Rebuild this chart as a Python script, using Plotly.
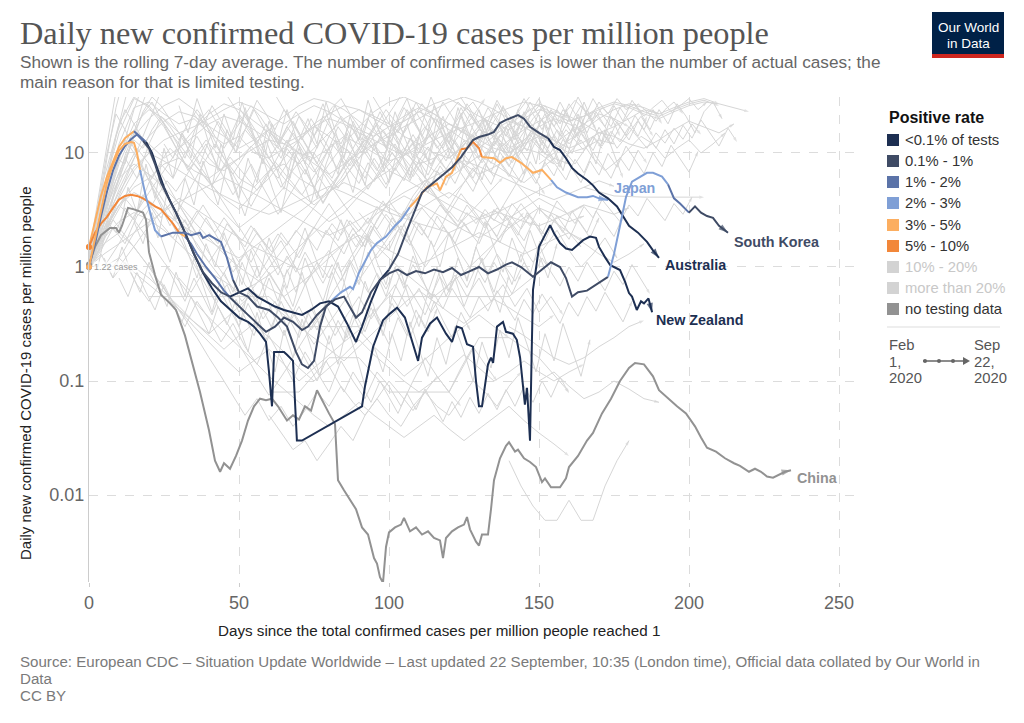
import math
import plotly.graph_objects as go

# ---------------- data ----------------
# positive-rate categories: 0 <0.1%, 1 0.1-1%, 2 1-2%, 3 2-3%, 4 3-5%, 5 5-10%, 6 10-20%, 7 >20%, 8 no testing data
legend_labels = ["&lt;0.1% of tests", "0.1% - 1%", "1% - 2%", "2% - 3%", "3% - 5%",
                 "5% - 10%", "10% - 20%", "more than 20%", "no testing data"]
cat_colors = ["#1d2f52", "#3f4b65", "#5b73a8", "#7f9fd6", "#fcae60",
              "#f2873a", "#d3d3d3", "#d3d3d3", "#929292"]
legend_text_colors = ["#333", "#333", "#333", "#333", "#333", "#333", "#c8c8c8", "#c8c8c8", "#333"]

aus_days = [0,2,4,6,8,10,12,14,16,18, 20,22,24,26,29,32,35,38,41,44, 47,50,53,56,59,62,65,68,71,74,
            77,80,83,86,89,91,94,97,100,103, 106,109,111,113,116,119,121,124,126,128,
            130,133,135,137,139,141,143,145,147,150, 153,155,157,159,161,163,166,168,170,173,
            176,178,180,183,186,188,190]
aus_vals = [1.0,1.6,2.8,4.6,7.0,9.5,11.5,13.2,14.5,12.8, 11.0,8.0,5.5,4.3,3.0,2.0,1.3,0.9,0.72,0.6,
            0.55,0.6,0.65,0.55,0.5,0.45,0.42,0.4,0.38,0.42, 0.48,0.5,0.45,0.32,0.22,0.3,0.5,0.77,0.95,1.3,
            2.1,3.4,4.5,5.0,5.8,6.8,7.5,9.2,11,13, 13.8,14.5,15.3,18.3,19.5,20.5,21.5,20,17,15,
            13.5,11.3,10.6,9,7.4,6.6,5.8,5.2,4.5,4.0, 3.4,2.8,2.3,2.0,1.66,1.4,1.2]
aus_cats = [2]*9 + [1]*11 + [0]*18 + [1]*22 + [0]*17

kor_days = [0,2,4,6,8,10,12,14,15,16,17, 19,22,24, 28,32,34,37,38,40,44,46,48,
            50,53,56,60,63,66,69,71,73,75, 77,79,82,85,87,89,91,94,97,100,
            103,106,109,112,115,118,121,124,127,130, 133,136,139,141,144,146,148,151,154,157,
            159,161,163,166,168,171,173, 175,177,179,181,184,186,188,191,193, 195,197,200,
            202,204,206,208,210,213]
kor_vals = [1.0,1.8,3.2,5.5,8,10.5,12,12.5,12.3,10,7.1, 4.1,2.1,1.85, 2.0,2.0,1.9,2.0,1.8,1.9,1.66,1.2,0.77,
            0.6,0.55,0.45,0.42,0.36,0.3,0.18,0.14,0.13,0.15, 0.3,0.45,0.52,0.55,0.45,0.36,0.4,0.6,0.77,0.88,
            0.95,0.85,0.92,0.88,0.95,0.9,0.98,0.85,0.92,1.0, 0.88,0.95,1.05,1.1,1.0,0.9,0.82,0.95,1.1,1.0,
            0.8,0.55,0.6,0.62,0.67,0.75,0.82, 1.3,2.3,4.1,5.6,6.3,6.7,6.7,6.2,5.3, 4.0,3.6,3.0,
            3.4,3.0,2.8,2.7,2.3,2.0]
kor_cats = [4]*10 + [3]*3 + [2]*9 + [1]*47 + [3]*9 + [2]*3 + [1]*7

jpn_days = [0,2,4,6,8,10,12,14,16,18,20,22,24,26,28, 30, 32,34,36,39,42,45,
            47,50,53,56,59,62,65,68,71,73,76,79, 81,84,87,88,90,94,96,99,102,104,
            107,110,112.6,116,117,119,121,122.6, 124,126,128,130, 131,135,137,139,141,144,148,151,
            154,156,159,163,166,168,170,173]
jpn_vals = [1.5,2.0,2.4,2.75,3.3,3.9,4.2,4.3,4.2,4.0,3.7,3.4,3.2,2.75,2.4, 2.0, 1.85,1.6,1.3,1.0,0.8,0.62,
            0.54,0.45,0.38,0.32,0.27,0.3,0.36,0.33,0.28,0.3,0.38,0.45, 0.51,0.6,0.67,0.64,0.89,1.41,1.62,1.85,2.3,2.58,
            3.36,4.1,5.0,5.4,4.7,6.2,6.7,8.7, 10.8,11.0,12.5,11.0, 9.2,9.0,8.2,9.0,9.2,8.2,6.7,7.1,
            5.8,5.0,4.5,4.1,4.1,4.2,4.0,3.87]
jpn_cats = [5]*15 + [4]*1 + [2]*6 + [1]*12 + [3]*10 + [4]*8 + [5]*4 + [4]*8 + [3]*8

nzl_days = [0,2,4,6,8,10,12,14,15,17, 19,21,23,25,27,29,32,35,38,41, 44,47,50,53,55,57,59,60,61,61.7,
            65,66,68,69.3,71,91,92,94.7,96.3,98, 100.3,102.7,105.3,108,109.7,111,113.7,116,119,121,
            122.6,124.3,126,128,129,130,131,133,134,134.7, 136,138,139,141.3,142.6,143.7,144.7,145.3,146,146.3,
            147,147.6,148,150,153.7,155,157,159,161,164.7, 167,169,170,172,173.7,175,177,178.7,180,181,
            182.6,184,185,186.5,187.7]
nzl_vals = [1.5,2.6,4.2,6.2,8.5,11.3,13.5,15.0,15.5,14, 12.5,10,7,5.0,3.8,3.0,2.0,1.3,0.89,0.65,
            0.5,0.42,0.36,0.33,0.3,0.26,0.22,0.12,0.06,0.18, 0.18,0.17,0.15,0.03,0.03,0.06,0.09,0.2,0.26,0.34,
            0.39,0.44,0.36,0.21,0.15,0.24,0.32,0.36,0.26,0.22, 0.3,0.29,0.21,0.2,0.1,0.06,0.06,0.14,0.16,0.144,
            0.3,0.33,0.27,0.26,0.23,0.16,0.083,0.062,0.087,0.06, 0.03,0.2,0.63,1.5,2.33,1.98,1.62,1.45,1.41,1.72,
            1.85,1.8,1.5,1.22,1.04,1.0,0.94,0.74,0.59,0.55, 0.42,0.5,0.48,0.53,0.40]
nzl_cats = [4]*8 + [2]*2 + [0]*85

chn_days = [0,2,4,7,9,10,11,13,15,18, 19,20,22,24,27,29,32,35,37,40, 42,43.7,45,47,49,51,53,55,57,59,
            61,63,65,66,68,70,72,74,76,78, 80,82,83,85,87,89,91,93,95,96, 97,98,99,100,102,104,105,107,109,111,
            113,115,117,118,119,121,123,125,126,127, 129,130,131,133,134,135,137,139,140,142,
            143,145,147,149,151,152,154,157,159,160, 163,166,168,171,174,177,180,182,185,188,
            190,193,196,199,202,204,206,209,212,215, 217,220,222,224,226,228,230,232,234]
chn_vals = [1.05,1.5,1.9,2.2,2.2,2.0,2.3,3.3,3.2,3.0, 2.6,1.35,0.85,0.57,0.48,0.42,0.25,0.125,0.08,0.037,
            0.02,0.016,0.019,0.017,0.022,0.03,0.045,0.06,0.07,0.068, 0.07,0.06,0.05,0.045,0.05,0.046,0.06,0.055,0.083,0.065,
            0.052,0.042,0.0135,0.011,0.009,0.0075,0.0052,0.0045,0.0028,0.0025,
            0.0019,0.0017,0.0035,0.0047,0.0052,0.0055,0.0063,0.0048,0.0052,0.0045,
            0.0048,0.0042,0.004,0.0028,0.0042,0.0048,0.0052,0.0055,0.0064,0.005,
            0.0039,0.0036,0.0045,0.0045,0.0075,0.0135,0.021,0.027,0.029,0.024,
            0.025,0.021,0.0195,0.0176,0.013,0.014,0.0117,0.0117,0.014,0.0176,
            0.022,0.03,0.035,0.052,0.07,0.1,0.13,0.144,0.14,0.11,
            0.083,0.07,0.06,0.052,0.04,0.032,0.026,0.024,0.021,0.019,
            0.018,0.016,0.017,0.016,0.0145,0.0142,0.015,0.016,0.0165]
chn_cats = [8]*len(chn_days)

# background (other countries): start day, step in days, values
gray_start = [0,0,0,0,0,0,0,5,0,0,0,0,10,20,30,40,5,15,50,
              0,0,0,0,0,0,0,10,
              0,0,5,0,15,30,0,20,60,140,60,
              0,0,0,0,0,0,40,90,120,60,150,165,140,150,
              0,0,3,8,0,25,40,60,0,10,30,45,20,0,50,90,100,70,140,120,0,130,
              100,110,60,0,20,150,80,35]
gray_step = [5,5,5,5,5,5,5,5,5,5,4,4,3,3,3,3,3,3,3,
             5,5,4,5,5,4,5,5,
             5,4,5,4,5,4,5,10,10,4,4,
             3,3,3,3,3,3,5,5,5,5,5,10,5,5,
             3,3,3,3,3,3,3,3,3,3,3,3,3,3,3,3,3,3,3,3,3,3,
             3,3,3,3,3,3,3,3]
gray_vals = [
    [1.1,4,12,25,28,22,18,20,15,12,14,10,9,11,13,18,22,26,24,20,17,19,23,27,30,25,21,18,16,20,24,22,19,21,25,28,26,23,21,24,27,29,26],
    [1.0,2.5,6,14,20,26,30,24,16,9,6,5,7,8,6,5,8,12,17,23,28,31,27,22,18,15,13,16,19,17,14,12,15,18,22,20,17],
    [1.3,3,8,16,12,9,11,14,18,21,19,16,13,10,8,11,15,20,24,21,18,14,12,10,9,12,16,14,11,13,17,20,18,15],
    [0.9,1.8,4,7,10,13,15,17,20,24,28,25,21,18,22,26,23,19,16,14,17,21,25,22,18,15,12,10,13,16,19,23,21,18,15,17,20,24,22],
    [1.2,5,15,30,26,18,12,8,5.5,4,3.2,4.5,6,9,13,17,14,11,9,12,15,19,23,20,16,13,11,14,18,22,27,24,20],
    [1.0,2,3.5,5,6,8,9,7,6,7.5,9,11,13,12,10,9,11,14,12,10,8.5,9.5,12,15,18,16,13,11,10,12,14,13,11,12.5,15,14,12,11,13,16,19,17,15,18],
    [1.1,3.2,9,18,24,20,15,11,8,7,9,12,16,21,26,30,28,24,19,15,12,10,8,9,11,8,6.5,7.5,9,11,10,8],
    [1.0,1.6,2.8,4.5,7,11,16,22,27,24,19,15,12,14,17,20,18,15,13,11,9.5,11,13,15,17,19,22,25,28,26,22,19,21,24,27,25,22,20,23,26,28,27,25,23],
    [1.4,6,18,31,25,17,10,6,4,3,2.2,2.8,3.5,5,4,3.2,2.5,3,4.2,5.8,8,11,9,7,6,7.5,9.5,8,6.5,5.5,7,9,8],
    [1.0,2.2,4.8,9,14,19,23,21,17,14,11,13,16,13,10,8,6.5,8,10,12,14,17,20,24,28,31,28,24,20,17,14,12,10,11,13,12],
    [0.9,2,5,9,6,12,20,14,9,18,24,16,11,22,15,9,13,19,12,8,14,21,16,10,7,12,18,25,17,11,15,22,28,19,13,9,14,20,26,18,12,16,23,17,11,15,21,14],
    [1.0,1.5,2.6,4,3,5.5,8,6,10,14,9,7,11,16,12,8,5,7,10,6.5,4.5,6,9,13,10,7,9,12,17,13,9,11,15,20,14,10,12,16,11,8,10,13,9,7,8.5,11,14,12,9,11,13,10,12,15],
    [2,5,3,8,4,11,6,15,9,22,12,7,16,10,25,14,8,18,11,6,13,20,12,28,16,9,19,13,24,15,10,21,30,18,12,26,16,11,22,14,9,17,27,19,13,23,15,10,18,28,20,14,24],
    [3,1.8,4.5,2.6,6,3.5,8.5,5,12,7,4,9,5.5,13,8,4.8,10,6,3.6,7.5,11,6.5,15,9,5.2,12,7.5,18,10,6,14,8.5,20,12,7,16,9.5,5.8,11,17,10,24,14,8,19,11,7,13,21,12],
    [26,15,30,18,11,22,13,28,16,9,19,12,24,14,8,17,27,16,10,21,13,29,17,11,23,14,9,18,31,20,12,25,15,10,20,13,26,16,11,22,30,19,12,24,15,28,18,12,21,14],
    [6,3.5,8,4.5,2.8,5.5,9,5,3,6.5,11,7,4,8,13,7.5,4.5,9.5,15,9,5.5,11,18,10,6,13,21,12,7,15,24,14,8.5,17,11,6.5,13,20,12,7.5,14,22,13,8,16,10,6],
    [1.2,0.8,1.5,0.9,0.6,1.1,0.7,0.45,0.9,0.55,1.2,0.7,0.4,0.8,0.5,0.3,0.6,1.0,0.55,0.35,0.7,0.45,0.9,0.5,0.3,0.65,1.1,0.6,0.35,0.75,0.45,0.25,0.55,0.9,0.5,0.3,0.6,1.0,0.55,0.8,0.45,0.7,1.2,0.65,0.4,0.85],
    [2.5,1.6,3,1.8,1.1,2.2,1.3,0.8,1.6,1.0,2.0,1.2,0.7,1.4,0.85,1.8,1.1,0.65,1.3,2.2,1.3,0.8,1.6,2.6,1.5,0.9,1.9,1.1,0.7,1.5,2.4,1.4,0.85,1.7,1.0,2.0,1.2,0.75,1.5,2.5,1.5,0.9,1.8,1.1,2.1,1.3,0.8,1.6],
    [0.3,0.18,0.4,0.22,0.12,0.28,0.16,0.35,0.2,0.11,0.25,0.14,0.3,0.17,0.09,0.2,0.12,0.26,0.15,0.33,0.19,0.11,0.24,0.14,0.3,0.18,0.1,0.22,0.13,0.28,0.16,0.36,0.21,0.12,0.26,0.15,0.32,0.19,0.11,0.23],
    [1.0,2,3.5,4.5,3.8,3,2.4,2,1.7,1.4,1.2,1.5,1.9,2.4,3,3.8,4.6,5.5,4.8,4,3.3,2.8,3.2,3.9,4.5,3.8,3.1,2.6,2.2,2.7,3.3,2.9,2.5,2.8],
    [1.1,1.8,2.5,3,2.6,2.1,1.6,1.2,0.9,0.75,0.6,0.7,0.85,1.1,1.5,2,2.7,3.5,4.5,5.8,7,6,5,4.2,3.5,3,2.6,2.9,3.4,4,4.7,5.5],
    [0.95,1.4,2.2,1.6,2.8,3.6,2.4,1.8,2.6,1.5,1.1,1.6,0.9,1.3,0.8,1.2,1.7,1.1,0.7,1.0,1.4,0.9,1.3,1.9,1.2,1.6,2.3,1.5,1.0,1.4,2.0,1.3,0.9,1.2,1.7,2.4,1.6,1.1,1.5,2.1,1.4,1.0,1.3,1.8,1.2],
    [1.2,3,6,8,6.5,5,3.6,2.5,1.8,1.3,1.0,0.8,0.65,0.55,0.7,0.9,1.2,1.6,2.1,2.8,3.5,4.2,3.6,3,2.5,2.1,1.8,2.2,2.7,3.3,4,3.4,2.9,3.5],
    [1.0,1.3,1.6,2.0,2.5,3.1,3.7,4.4,5.2,6.1,5.2,4.4,3.7,3.1,2.6,2.2,1.9,2.2,2.6,3.1,3.7,4.5,5.3,6.3,7.4,8.6,7.6,6.6,5.7,5,4.4,3.9,4.4,5.0,5.7,5.1],
    [1.0,2.0,4,7,11,8,5,3.4,2.2,1.6,1.1,0.8,1.2,0.7,0.5,0.9,0.6,0.4,0.7,1.1,0.8,1.4,2.2,1.5,2.6,3.8,2.7,4.2,5.8,4.1,3.0,4.4,3.2,2.3,3.3,2.5,3.6,2.6,1.9,2.8,2.0,1.5],
    [1.3,2.4,4.5,7.5,10,8.5,7,5.8,4.9,4.2,3.6,3.2,2.9,3.3,3.8,4.4,5.1,4.5,3.9,3.4,3.0,2.7,2.4,2.2,2.0,2.3,2.7,3.1,2.8,2.5,2.3,2.6,3.0,3.5,3.2,2.9,3.3],
    [1.0,1.5,2.3,3.2,4,3.3,2.7,2.2,1.8,1.5,1.3,1.1,0.95,1.1,1.3,1.6,1.9,1.6,1.4,1.2,1.05,1.2,1.45,1.7,2,1.75,1.5,1.3,1.5,1.75,2,1.7],
    [1.0,1.6,2.0,1.5,1.0,0.65,0.42,0.3,0.22,0.16,0.12,0.15,0.19,0.14,0.1,0.13,0.17,0.22,0.28,0.2,0.15,0.11,0.14,0.18,0.24,0.3,0.38,0.3,0.24],
    [1.0,1.3,0.8,1.1,0.7,0.5,0.75,0.45,0.3,0.5,0.35,0.22,0.32,0.2,0.14,0.25,0.16,0.1,0.18,0.12,0.08,0.15,0.1,0.07,0.12,0.09,0.06,0.1,0.16,0.11,0.08,0.13,0.2,0.14,0.1],
    [1.0,1.2,0.9,0.7,0.55,0.42,0.33,0.26,0.34,0.45,0.6,0.48,0.38,0.3,0.24,0.19,0.15,0.2,0.27,0.36,0.48,0.62,0.5,0.4,0.32,0.41,0.52,0.44,0.36,0.3,0.38],
    [1.1,1.8,2.6,1.9,1.4,1.0,0.7,0.5,0.35,0.24,0.16,0.11,0.075,0.05,0.07,0.045,0.06,0.04,0.055,0.08,0.06,0.09,0.065,0.05,0.07,0.1,0.075,0.055,0.08,0.11,0.08,0.06],
    [1.0,0.8,0.6,0.45,0.33,0.25,0.19,0.25,0.32,0.24,0.18,0.13,0.1,0.13,0.17,0.23,0.17,0.13,0.1,0.08,0.1,0.13,0.17,0.13,0.1,0.12,0.15,0.12,0.1,0.12,0.14],
    [0.8,0.6,0.9,0.5,0.7,0.4,0.6,0.35,0.5,0.3,0.45,0.28,0.4,0.25,0.38,0.55,0.35,0.5,0.7,0.45,0.65,0.4,0.6,0.85,0.55,0.8,0.5,0.7,0.45,0.65,0.4,0.55,0.38],
    [1.0,2.2,3.5,2.6,1.7,1.1,0.75,0.5,0.36,0.27,0.2,0.15,0.11,0.085,0.065,0.05,0.04,0.05,0.065,0.05,0.04,0.032,0.04,0.05,0.038,0.03,0.038,0.048,0.06,0.045,0.035,0.028,0.022],
    [0.55,0.55,0.55,0.55,0.55,0.3,0.3,0.3,0.55,0.55,0.55,0.55,0.55,0.9],
    [0.08,0.08,0.16,0.16,0.08,0.08,0.08,0.24,0.24,0.16,0.08],
    [0.02,0.012,0.008,0.006,0.006,0.009,0.006,0.006,0.012,0.02,0.03],
    [0.05,0.035,0.025,0.03,0.02,0.028,0.04,0.03,0.05,0.07,0.05,0.04,0.06,0.08,0.06,0.05,0.07,0.1,0.08,0.06,0.09,0.12],
    [1.0,2.5,6,14,30,60],
    [1.1,3,9,25,50],
    [0.9,1.8,3.5,7,13,24,40],
    [1.2,2,4.5,9,8,15,28,45],
    [1.0,1.4,2.3,3.6,5.5,8.8,14,22,35],
    [1.3,4,12,35],
    [60,35,22,14,9,6,4.5,3.5,4.5,6,9,14,22,35,55],
    [50,30,18,11,7,5,4,5.5,8,12,18,27,40],
    [45,28,17,10,6.5,4.5,3.2,2.5,2,1.6,1.3,1.1,1.3,1.6],
    [40,24,15,9,5.5,3.5,2.3,1.6,1.2,0.9,0.7,0.55,0.7,0.9,1.2,1.6,2.2,3],
    [8,10,13,16,20,24,27,25,22,25,28,30,27],
    [5,4.2,4.1,4.1,4.1],
    [0.3,0.25,0.2,0.16,0.14,0.16,0.2,0.24,0.3,0.34],
    [0.1,0.12,0.09,0.07,0.08,0.1,0.085,0.07,0.065],
    [1.0,1.9,3.4,5.8,9,13,11,16,21,17,13,18,24,19,14,11,15,20,26,21,16,12,17,23,18,14,19,25,30,22,17,13,18,24,19,15,20,27,21,16,22,28,23,18,14,19,25,20,16,21,26,22,18,23,29,24,19,25,21,17,22,27,23,19,24,28,22],
    [1.1,1.6,2.3,3.1,4.2,5.5,7.2,6,8.5,11,9,7.5,10,13,10.5,8,6.5,8.8,11.5,9.2,7.4,6,8,10.5,8.4,6.8,9,12,9.6,7.7,10,13.5,11,8.8,7,9.5,12.5,10,8,10.8,14,11.2,9,7.2,9.6,12.8,10.2,8.2,11,14.5,11.6,9.3,12.2,10,8,10.6,13.8,11],
    [1.0,2.4,5,9.5,15,22,28,20,14,10,7,9,12,8.5,6,4.3,5.8,8,5.6,4,2.9,3.9,5.3,7.2,5.1,3.7,5,6.8,9.2,6.6,4.8,6.5,8.8,12,8.6,6.2,8.4,11.4,15.5,11,8,10.8,14.6,19.8,14.2,10.2,13.8,18.6,25],
    [1.0,1.3,1.8,2.4,3.2,4.3,5.7,4.6,6.1,8.1,6.5,5.2,6.9,9.2,7.4,5.9,4.7,6.3,8.4,6.7,5.4,4.3,5.7,7.6,6.1,4.9,6.5,8.7,7,5.6,7.5,10,8,6.4,8.5,11.3,9,7.2,9.6,12.8,10.2,8.2,10.9,14.5,11.6,9.3,12.4,16.5,13.2],
    [0.9,1.5,2.5,2,3.3,2.6,4.3,3.4,2.7,3.6,2.9,2.3,3.1,2.5,2,2.7,2.1,1.7,2.3,1.8,1.45,1.95,1.55,2.1,1.7,2.25,1.8,2.4,1.9,2.55,2.05,2.7,2.15,2.9,2.3,3.1,2.5,3.3,2.65,3.5,2.8,2.25,3,2.4,3.2,2.55,3.4,2.7,2.15,2.9],
    [12,9,15,11,8,13,19,14,10,16,24,17,12,9,14,21,15,11,17,26,18,13,10,15,23,16,12,18,28,20,14,11,16,25,18,13,19,29,21,15,12,17,26,19,14,20,31,22,16],
    [2,1.6,2.4,1.9,1.5,2.2,1.7,1.35,2,1.55,1.2,1.8,1.4,2.1,1.65,1.3,1.95,1.5,2.3,1.8,1.4,2.1,1.65,2.5,1.95,1.5,2.25,1.75,2.6,2,1.6,2.4,1.85,2.8,2.2,1.7,2.5,1.95,2.9,2.25,1.75,2.6,2,3.1,2.4,1.85,2.8],
    [9,7,11,8.5,6.5,10,7.8,6,9,7,5.4,8.2,6.3,4.9,7.4,5.7,8.6,6.6,5.1,7.7,5.9,9,6.9,5.3,8,6.2,9.4,7.2,5.5,8.4,6.4,9.8,7.5,5.8,8.8,6.7,10.2,7.8,6,9.1,7,10.6,8.1],
    [1.2,2.8,6.5,14,24,18,13,9,6.5,4.8,3.5,2.6,1.9,1.45,1.1,0.85,0.65,0.5,0.62,0.78,0.98,1.25,1.6,2.05,2.6,3.3,4.2,5.4,6.9,8.8,11.2,14.3,18,14.2,11.3,9,7.1,5.7,4.5,3.6,2.9,2.3,2.8,3.4,4.1,5,6.1],
    [0.8,0.55,0.9,0.6,0.42,0.7,0.48,0.33,0.55,0.38,0.26,0.45,0.31,0.52,0.36,0.25,0.42,0.29,0.5,0.34,0.24,0.4,0.28,0.47,0.32,0.22,0.38,0.26,0.44,0.3,0.21,0.36,0.25,0.42,0.29,0.5,0.34,0.24,0.4,0.28],
    [3.5,2.6,1.9,2.7,2,1.45,2.1,1.55,1.1,1.6,1.2,0.85,1.25,0.9,1.35,1,0.72,1.05,0.76,1.15,0.84,0.6,0.88,0.64,0.95,0.7,1.05,0.77,0.56,0.82,0.6,0.9,0.66,1,0.73,1.1,0.8,0.58,0.86],
    [0.9,0.6,1.1,0.7,0.45,0.8,0.5,0.95,0.6,1.2,0.75,0.5,0.9,0.58,1.1,0.7,1.35,0.85,0.55,1,0.65,1.25,0.8,0.52,0.95,0.62,1.2,0.78,1.5,0.95,0.6,1.1,0.7,1.3,0.85,1.6,1],
    [6,4.5,3.4,2.5,1.9,2.6,3.5,2.6,1.95,1.45,1.1,1.5,2,1.5,1.1,0.82,1.1,1.5,2,2.7,3.6,2.7,2,1.5,2.05,2.8,3.8,2.8,2.1,2.9,3.9,5.3,4,3,4.1,5.5,7.4,5.5,4.1,3.1,4.2,5.7,7.7,5.8,4.3],
    [1.0,1.7,2.9,4.9,8.3,14,23,31,26,20,15,11,8.5,6.4,4.8,3.6,2.7,2,1.5,1.15,0.87,0.65,0.49,0.37,0.28,0.21,0.27,0.35,0.46,0.6,0.78,1.01,1.3,1.7,2.2,2.9,3.8,4.9,6.4,8.3,10.8,14,18,23,30],
    [25,19,29,22,16,24,18,13,20,15,11,17,13,9.5,14,10.5,16,12,9,13.5,10,15,11.5,8.5,12.8,9.6,14.4,10.8,8.1,12.2,9.2,13.8,10.4,15.6,11.7,8.8,13.2,9.9,14.9,11.2,16.8,12.6,18.9,14.2,21.3,16,24,18],
    [3,2.4,3.4,2.7,2.1,3,2.4,1.9,2.7,2.15,3.1,2.5,3.5,2.8,2.2,3.2,2.55,3.6,2.9,2.3,3.3,2.65,3.8,3,2.4,3.4,2.7,3.9,3.1,2.5,3.5,2.8,4,3.2,2.55,3.6,2.9,4.1],
    [0.6,0.45,0.7,0.52,0.38,0.58,0.43,0.65,0.48,0.36,0.55,0.41,0.62,0.46,0.34,0.52,0.39,0.58,0.43,0.32,0.49,0.37,0.55,0.41,0.6,0.45,0.33,0.5],
    [0.2,0.14,0.1,0.15,0.11,0.08,0.12,0.09,0.065,0.1,0.072,0.052,0.078,0.056,0.085,0.061,0.044,0.066,0.048,0.072,0.052,0.078,0.056,0.084,0.06,0.09,0.065,0.1,0.072,0.108,0.078],
    [18,14,20,16,22,17,24,19,26,20,28,22,30,24,27,21,25,29,23,26,30,24,28],
    [12,9.5,13,10.5,14.5,11.5,15.5,12.5,10,13.5,11,14.8,12,16,13,10.5,14,11.5,15.5,12.5,17,13.8,11,15,12.2,16.5,13.2,18,14.5],
    [1.1,2.1,4,7.6,13,10,7.2,5.1,3.6,2.6,1.85,1.3,0.95,0.68,0.5,0.36,0.26,0.19,0.14,0.1,0.075,0.1,0.13,0.18,0.24,0.32,0.43,0.58,0.78,1.05,1.4,1.9,2.55,3.4,4.6,6.2,8.3,11,15],
    [1.2,0.9,1.3,1.0,0.75,1.1,0.82,1.2,0.9,0.68,1.0,0.75,1.1,0.82,0.62,0.92,0.7,1.05,0.78,0.58],
    [20,15,24,18,13,19,28,21,15,22,17,25,19,14,21,30,22,16,24,18,27,20,15,23,17,26,19,29,22,16,24,18,27,21,15,23,28,20],
    [6,4.5,7,5.2,8,6,4.6,7,5.3,8.2,6.2,9.5,7.1,5.4,8.3,6.3,9.7,7.3,5.5,8.5,6.4,9.9,7.5,11.5,8.7,6.6,10,7.6,11.7,8.9,6.8,10.3],
    [15,11,17,13,9.5,14,21,16,12,18,13,20,15,11,17,25,19,14,21,16,12,18,27,20,15,22,17,12.5,19,28,21,16,24,18,13.5,20,30,22,17,25,19,14,21],
    [1.0,3.5,10,22,16,11,7.5,5,3.4,2.3,3.2,4.5,6.3,8.8,12,9,6.5,4.7,3.4,4.8,6.7,9.4,13,9.5,7,5,3.6,5,7,9.8,13.7,10,7.3,5.3,7.4,10.4,14.5,10.6,7.7,10.8,15,11,8,11.2,15.7],
    [0.9,0.65,1.0,0.7,0.5,0.8,0.55,0.38,0.6,0.42,0.3,0.48,0.33,0.23,0.36,0.25,0.4,0.28,0.44,0.3,0.21,0.34,0.24,0.38,0.27,0.43,0.3,0.48,0.34,0.24,0.38,0.27,0.43],
    [14,11,16,12.5,18,14,10.5,15.5,12,17,13,19,14.5,11,16,12,17.5,13.5,19.5,15,11.5,16.5,12.5],
    [2.2,1.7,2.6,2,1.5,2.3,1.75,2.7,2.05,1.55,2.4,1.8,2.8,2.1,1.6,2.45,1.85,2.9,2.2,1.65,2.5,1.9,3,2.3,1.7,2.6,2,3.1,2.35,1.8,2.7],
    [22,17,26,19,14,21,16,12,18,13.5,10,15,11.5,8.5,13,9.6,7.2,10.8,8,6,9,6.8,10.2,7.6,5.7,8.6,6.4,9.6,7.2,5.4,8.1,6,9,6.8,10.2,7.6,11.4,8.6,12.9,9.7,14.5,10.9,16.3,12.2],
]

x_ticks = [0, 50, 100, 150, 200, 250]
y_ticks = [0.01, 0.1, 1, 10]
y_ticktext = ["0.01", "0.1", "1", "10"]

# ---------------- figure ----------------
FIG_W, FIG_H = 1024, 723
PL, PR, PT, PB = 89, 860, 97, 582


def px(x):
    return (x - PL) / (PR - PL)


def py(y):
    return (PB - y) / (PB - PT)


GRAY = "#d6d6d6"
fig = go.Figure()

assert len(gray_start) == len(gray_step) == len(gray_vals)
for s, st, vals in zip(gray_start, gray_step, gray_vals):
    xs = [s + st * i for i in range(len(vals))]
    sizes = [0] * (len(vals) - 1) + [5]
    fig.add_trace(go.Scatter(x=xs, y=vals, mode="lines+markers",
                             line=dict(color=GRAY, width=1),
                             marker=dict(symbol="arrow", angleref="previous", size=sizes, color=GRAY, line=dict(width=0)),
                             hoverinfo="skip", showlegend=False))


def add_country(days, vals, cats, width=2.0):
    assert len(days) == len(vals) == len(cats), (len(days), len(vals), len(cats))
    n = len(days)
    i = 0
    last = None
    while i < n - 1:
        c = cats[i]
        j = i
        while j < n - 1 and cats[j] == c:
            j += 1
        fig.add_trace(go.Scatter(x=days[i:j + 1], y=vals[i:j + 1], mode="lines",
                                 line=dict(color=cat_colors[c], width=width),
                                 hoverinfo="skip", showlegend=False))
        last = c
        i = j
    fig.add_trace(go.Scatter(x=days[-2:], y=vals[-2:], mode="markers",
                             marker=dict(symbol="arrow", angleref="previous", size=[0, 10],
                                         color=cat_colors[last], line=dict(width=0)),
                             hoverinfo="skip", showlegend=False))
    fig.add_trace(go.Scatter(x=[days[0]], y=[vals[0]], mode="markers",
                             marker=dict(symbol="circle", size=6, color=cat_colors[cats[0]]),
                             hoverinfo="skip", showlegend=False, cliponaxis=False))


add_country(chn_days, chn_vals, chn_cats)
add_country(nzl_days, nzl_vals, nzl_cats)
add_country(jpn_days, jpn_vals, jpn_cats)
add_country(aus_days, aus_vals, aus_cats)
add_country(kor_days, kor_vals, kor_cats)

SANS = "Liberation Sans, Arial, sans-serif"
annotations = []
shapes = []


def text(x, y, t, size=14, color="#333", anchor="left", bold=False, family=SANS, yanchor="middle", angle=0):
    annotations.append(dict(xref="paper", yref="paper", x=px(x), y=py(y), text=("<b>%s</b>" % t) if bold else t,
                            showarrow=False, xanchor=anchor, yanchor=yanchor, textangle=angle,
                            font=dict(size=size, color=color, family=family)))


# titles
text(18, 33, "Daily new confirmed COVID-19 cases per million people", size=32.3, color="#555",
     family="Liberation Serif, Times New Roman, serif")
text(18, 62, "Shown is the rolling 7-day average. The number of confirmed cases is lower than the number of actual cases; the",
     size=17.2, color="#666")
text(18, 82, "main reason for that is limited testing.", size=17.2, color="#666")

# axis titles
text(439, 630, "Days since the total confirmed cases per million people reached 1", size=15.2, color="#222", anchor="center")
text(25, 373, "Daily new confirmed COVID-19 cases per million people", size=15, color="#222", anchor="center", angle=-90)

# footer
text(18, 661, "Source: European CDC – Situation Update Worldwide – Last updated 22 September, 10:35 (London time), Official data collated by Our World in",
     size=15.1, color="#7a7a7a")
text(18, 678, "Data", size=15.1, color="#7a7a7a")
text(18, 695, "CC BY", size=15.1, color="#7a7a7a")

# logo
shapes.append(dict(type="rect", xref="paper", yref="paper", x0=px(932), x1=px(1004), y0=py(54), y1=py(12),
                   fillcolor="#002147", line=dict(width=0), layer="above"))
shapes.append(dict(type="rect", xref="paper", yref="paper", x0=px(932), x1=px(1004), y0=py(58), y1=py(54),
                   fillcolor="#ce261e", line=dict(width=0), layer="above"))
text(968, 27, "Our World", size=13.5, color="white", anchor="center")
text(968, 44, "in Data", size=13.5, color="white", anchor="center")

# legend
text(887, 118, "Positive rate", size=16, color="#111", bold=True)
row_y = [140, 161, 182, 203, 225, 246, 267, 288, 309]
for lab, col, tcol, yy in zip(legend_labels, cat_colors, legend_text_colors, row_y):
    shapes.append(dict(type="rect", xref="paper", yref="paper", x0=px(887), x1=px(899), y0=py(yy + 6), y1=py(yy - 6),
                       fillcolor=col, line=dict(width=0)))
    text(903, yy, lab, size=14.8, color=tcol)
shapes.append(dict(type="line", xref="paper", yref="paper", x0=px(887), x1=px(1000), y0=py(327), y1=py(327),
                   line=dict(color="#ddd", width=1)))

# timeline
for t, yy in zip(["Feb", "1,", "2020"], [345, 362, 378]):
    text(887, yy, t, size=14.8, color="#555")
for t, yy in zip(["Sep", "22,", "2020"], [345, 362, 378]):
    text(972, yy, t, size=14.8, color="#555")
shapes.append(dict(type="line", xref="paper", yref="paper", x0=px(923), x1=px(965), y0=py(361), y1=py(361),
                   line=dict(color="#666", width=1.5)))
for cx in [925, 939, 953]:
    shapes.append(dict(type="circle", xref="paper", yref="paper", x0=px(cx - 2), x1=px(cx + 2), y0=py(363), y1=py(359),
                       fillcolor="#666", line=dict(width=0)))
shapes.append(dict(type="path", xref="paper", yref="paper",
                   path="M %f %f L %f %f L %f %f Z" % (px(963), py(357), px(970), py(361), px(963), py(365)),
                   fillcolor="#666", line=dict(width=0)))

# country labels (attached to line ends)
labels = [("South Korea", kor_days, kor_vals, cat_colors[1], 4, -9),
          ("Australia", aus_days, aus_vals, cat_colors[0], 4, -7),
          ("New Zealand", nzl_days, nzl_vals, cat_colors[0], 2, -8),
          ("Japan", jpn_days, jpn_vals, cat_colors[3], 4, 12),
          ("China", chn_days, chn_vals, cat_colors[8], 4, -8)]
for name, d, v, col, xs_, ys_ in labels:
    annotations.append(dict(xref="x", yref="y", x=d[-1], y=math.log10(v[-1]), text="<b>%s</b>" % name,
                            showarrow=False, xanchor="left", yanchor="middle", xshift=xs_, yshift=ys_,
                            font=dict(size=14.3, color=col, family=SANS)))

annotations.append(dict(xref="x", yref="y", x=0, y=math.log10(1.0), text="1.22 cases", showarrow=False,
                        xanchor="left", yanchor="middle", xshift=4, font=dict(size=9, color="#999", family=SANS),
                        bgcolor="rgba(255,255,255,0.7)", borderpad=0))

fig.update_layout(
    width=FIG_W, height=FIG_H,
    margin=dict(l=PL, r=FIG_W - PR, t=PT, b=FIG_H - PB),
    paper_bgcolor="white", plot_bgcolor="white",
    font=dict(family=SANS, color="#666"),
    showlegend=False,
    xaxis=dict(range=[0, 257], tickvals=x_ticks, showgrid=True, gridcolor="#dcdcdc", griddash="dash",
               zeroline=False, showline=False, ticks="outside", ticklen=4, tickcolor="#ccc",
               tickfont=dict(size=18, color="#666", family=SANS)),
    yaxis=dict(type="log", range=[-2.763, 1.491], tickvals=y_ticks, ticktext=y_ticktext, showgrid=True,
               gridcolor="#dcdcdc", griddash="dash", showline=True, linecolor="#ccc", linewidth=1,
               zeroline=False, ticks="", tickfont=dict(size=18, color="#666", family=SANS)),
    annotations=annotations,
    shapes=shapes,
)

fig.write_html("out.html")
